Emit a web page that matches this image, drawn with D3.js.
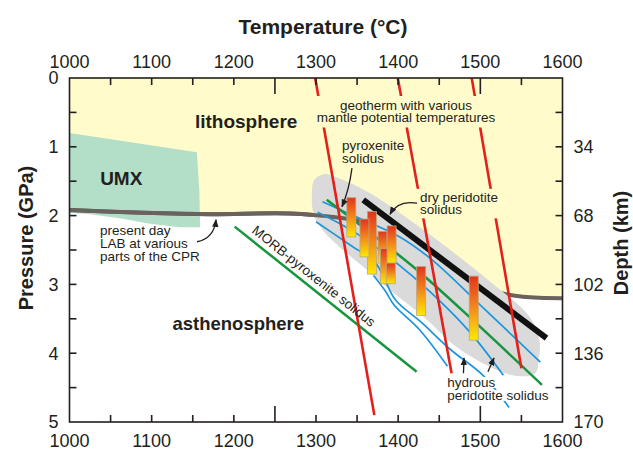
<!DOCTYPE html>
<html>
<head>
<meta charset="utf-8">
<script src="https://cdn.jsdelivr.net/npm/d3@7"></script>
<style>
  html, body { margin: 0; padding: 0; background: #fff; }
  svg { display: block; font-family: "Liberation Sans", Arial, Helvetica, sans-serif; }
</style>
</head>
<body>
<svg id="chart" width="633" height="453"></svg>
<script>
// ---- axis ticks ----
const tempLabels = [1000, 1100, 1200, 1300, 1400, 1500, 1600];
const tempTickMarks = [1050, 1100, 1150, 1200, 1250, 1300, 1350, 1400, 1450, 1500, 1550];
const tempLongTicks = [1250, 1500];
const pressureLabels = [0, 1, 2, 3, 4, 5];
const pressureTickMarks = [0.5, 1, 1.5, 2, 2.5, 3, 3.5, 4, 4.5];
const depthAtPressure = [1, 2, 3, 4, 5];
const depthLabels = ["34", "68", "102", "136", "170"];

// ---- lithosphere-asthenosphere boundary (present day LAB) ----
const labT = [1000, 1090, 1171, 1268, 1329, 1372, 1430, 1472, 1496, 1520, 1552, 1600];
const labP = [1.92, 1.96, 1.98, 1.97, 2.03, 2.11, 2.40, 2.75, 2.98, 3.11, 3.18, 3.20];

// ---- UMX field ----
const umxT = [1000, 1155, 1158, 1159, 1134, 1098, 1061, 1025, 1000];
const umxP = [0.80, 1.08, 1.63, 2.17, 2.17, 2.12, 2.04, 1.98, 1.96];

// ---- melting zone (grey field) ----
const meltT = [1309, 1317, 1362, 1431, 1512, 1560, 1572, 1571, 1567, 1544, 1512, 1471, 1431, 1390, 1362, 1329, 1308, 1297, 1295, 1298];
const meltP = [1.40, 1.41, 1.65, 2.21, 2.96, 3.47, 3.81, 4.10, 4.29, 4.33, 4.20, 3.91, 3.47, 3.08, 2.79, 2.46, 2.21, 1.97, 1.68, 1.48];

// ---- geotherms for various mantle potential temperatures ----
const geotherm1T = [1299, 1371];   const geotherm1P = [0, 4.90];
const geotherm2T = [1399.5, 1465]; const geotherm2P = [0, 4.29];
const geotherm3T = [1489.5, 1550]; const geotherm3P = [0, 4.22];

// ---- solidi ----
const drySolidusT = [1357.5, 1580.5]; const drySolidusP = [1.77, 3.78];
const morbSolidusT = [1201, 1422.5];  const morbSolidusP = [2.16, 4.27];
const pyxSolidusT = [1313, 1378, 1427, 1491, 1575]; const pyxSolidusP = [1.77, 2.36, 2.83, 3.52, 4.46];

// hydrous peridotite solidi
const hydrous1T = [1308, 1353, 1402, 1442, 1500, 1573]; const hydrous1P = [1.80, 2.04, 2.31, 2.65, 3.30, 4.13];
const hydrous2T = [1302, 1347, 1396, 1439, 1487, 1528]; const hydrous2P = [1.95, 2.24, 2.67, 3.11, 3.69, 4.32];
const hydrous3T = [1300, 1342, 1372, 1384, 1397, 1428, 1464, 1503, 1535]; const hydrous3P = [2.09, 2.43, 2.68, 2.94, 3.23, 3.55, 3.95, 4.32, 4.79];
const hydrous4T = [1370, 1384, 1395, 1426, 1460]; const hydrous4P = [2.87, 3.09, 3.30, 3.66, 4.19];

// ---- P-T estimates (bars) ----
const barT      = [1343, 1368, 1359, 1381, 1384, 1392, 1391, 1428, 1492];
const barPTop   = [1.74, 1.94, 2.05, 2.23, 2.48, 2.15, 2.69, 2.74, 2.88];
const barPBottom= [2.31, 2.85, 2.60, 2.69, 2.99, 2.69, 2.99, 3.45, 3.81];

// ---- drawing ----
const svg = d3.select("#chart");
const x = d3.scaleLinear().domain([1000, 1600]).range([69.5, 562.5]);
const y = d3.scaleLinear().domain([0, 5]).range([78, 422]);
const ink = "#231f20";
const lithoFill = "#fffbca";

const zip = (ts, ps) => ts.map((t, i) => [t, ps[i]]);
const line = d3.line().x(d => x(d[0])).y(d => y(d[1]));
const closed = d3.line().x(d => x(d[0])).y(d => y(d[1])).curve(d3.curveLinearClosed);
const smooth = d3.line().x(d => x(d[0])).y(d => y(d[1])).curve(d3.curveCatmullRom.alpha(0.5));

const defs = svg.append("defs");
defs.append("clipPath").attr("id", "plot-clip")
  .append("rect").attr("x", x(1000)).attr("y", y(0))
  .attr("width", x(1600) - x(1000)).attr("height", y(5) - y(0));

const grad = defs.append("linearGradient").attr("id", "bar-grad")
  .attr("x1", 0).attr("y1", 0).attr("x2", 0).attr("y2", 1);
grad.append("stop").attr("offset", "0%").attr("stop-color", "#e2331f");
grad.append("stop").attr("offset", "50%").attr("stop-color", "#f28a1d");
grad.append("stop").attr("offset", "100%").attr("stop-color", "#ffea00");

defs.append("marker").attr("id", "arrow")
  .attr("viewBox", "0 0 10 10").attr("refX", 9).attr("refY", 5)
  .attr("markerUnits", "userSpaceOnUse")
  .attr("markerWidth", 8).attr("markerHeight", 8).attr("orient", "auto")
  .append("path").attr("d", "M0,1 L10,5 L0,9 Z").attr("fill", ink);

const plot = svg.append("g").attr("clip-path", "url(#plot-clip)");

// lithosphere above the LAB
const lab = zip(labT, labP);
plot.append("path")
  .attr("d", d3.area().x(d => x(d[0])).y0(y(0)).y1(d => y(d[1])).curve(d3.curveCatmullRom.alpha(0.5))(lab))
  .attr("fill", lithoFill);

// UMX field
plot.append("path").attr("d", closed(zip(umxT, umxP))).attr("fill", "#b3dec8");

// LAB line
plot.append("path").attr("d", smooth(lab))
  .attr("fill", "none").attr("stroke", "#6b625e").attr("stroke-width", 4);

// melting zone
plot.append("path")
  .attr("d", d3.line().x(d => x(d[0])).y(d => y(d[1])).curve(d3.curveCatmullRomClosed.alpha(0.5))(zip(meltT, meltP)))
  .attr("fill", "#dadada");

// LAB visible across the upper end of the melting zone
plot.append("path").attr("d", smooth(lab.filter(d => d[0] <= 1372)))
  .attr("fill", "none").attr("stroke", "#6b625e").attr("stroke-width", 4);

// hydrous peridotite solidi
[[hydrous1T, hydrous1P], [hydrous2T, hydrous2P], [hydrous3T, hydrous3P], [hydrous4T, hydrous4P]].forEach(([ts, ps]) => {
  plot.append("path").attr("d", smooth(zip(ts, ps)))
    .attr("fill", "none").attr("stroke", "#1b95dc").attr("stroke-width", 1.7);
});

// pyroxenite and MORB-pyroxenite solidi
plot.append("path").attr("d", smooth(zip(pyxSolidusT, pyxSolidusP)))
  .attr("fill", "none").attr("stroke", "#17953f").attr("stroke-width", 2.5);
plot.append("path").attr("d", line(zip(morbSolidusT, morbSolidusP)))
  .attr("fill", "none").attr("stroke", "#17953f").attr("stroke-width", 2.5);

// dry peridotite solidus
plot.append("path").attr("d", line(zip(drySolidusT, drySolidusP)))
  .attr("fill", "none").attr("stroke", "#111").attr("stroke-width", 6);

// P-T bars
const barW = 9;
plot.selectAll("rect.bar").data(barT.map((t, i) => ({ t, top: barPTop[i], bot: barPBottom[i] })))
  .enter().append("rect").attr("class", "bar")
  .attr("x", d => x(d.t) - barW / 2).attr("y", d => y(d.top))
  .attr("width", barW).attr("height", d => y(d.bot) - y(d.top))
  .attr("fill", "url(#bar-grad)").attr("stroke", "#b9a77c").attr("stroke-width", 0.8);

// geotherms
[[geotherm1T, geotherm1P], [geotherm2T, geotherm2P], [geotherm3T, geotherm3P]].forEach(([ts, ps]) => {
  plot.append("path").attr("d", line(zip(ts, ps)))
    .attr("fill", "none").attr("stroke", "#e3201b").attr("stroke-width", 2.6);
});

// ---- annotations ----
const notes = svg.append("g").attr("fill", ink);

// one <text> per line; optional backing box in the given colour
function multiline(tx, ty, lines, opts) {
  const lh = opts.lh || 13;
  const items = lines.map((s, i) => notes.append("text")
    .attr("x", x(tx)).attr("y", y(ty) + i * lh)
    .attr("font-size", opts.size || 13.5)
    .attr("font-weight", opts.bold ? "bold" : "normal")
    .attr("text-anchor", opts.anchor || "start")
    .text(s));
  if (opts.knockout) {
    const [padX, padY, fill] = opts.knockout;
    if (opts.perLine) {
      items.forEach(t => {
        const b = t.node().getBBox();
        notes.insert("rect", () => items[0].node())
          .attr("x", b.x - padX).attr("y", b.y + 2 - padY)
          .attr("width", b.width + 2 * padX).attr("height", b.height - 4 + 2 * padY)
          .attr("fill", fill);
      });
    } else {
      const boxes = items.map(t => t.node().getBBox());
      const x0 = d3.min(boxes, b => b.x), x1 = d3.max(boxes, b => b.x + b.width);
      const y0 = d3.min(boxes, b => b.y), y1 = d3.max(boxes, b => b.y + b.height);
      notes.insert("rect", () => items[0].node())
        .attr("x", x0 - padX).attr("y", y0 - padY)
        .attr("width", x1 - x0 + 2 * padX).attr("height", y1 - y0 + 2 * padY)
        .attr("fill", fill);
    }
  }
}

multiline(1215, 0.73, ["lithosphere"], { size: 19, bold: true, anchor: "middle" });
multiline(1063, 1.56, ["UMX"], { size: 19, bold: true, anchor: "middle" });
multiline(1285.5, 3.66, ["asthenosphere"], { size: 18.5, bold: true, anchor: "end" });
multiline(1409.5, 0.465, ["geotherm with various", "mantle potential temperatures"], { anchor: "middle", lh: 12.5, knockout: [3, 2, lithoFill] });
multiline(1331.6, 1.05, ["pyroxenite", "solidus"], { lh: 12.5 });
multiline(1426.6, 1.80, ["dry peridotite", "solidus"], { lh: 12.5, knockout: [4, 1, lithoFill] });
multiline(1037, 2.28, ["present day", "LAB at various", "parts of the CPR"], {});
multiline(1459.8, 4.49, ["hydrous", "peridotite solidus"], { knockout: [1, 0, "#fff"], perLine: true });

// MORB-pyroxenite label along its solidus
notes.append("text")
  .attr("transform", `translate(${x(1221)},${y(2.24)}) rotate(38.5)`)
  .attr("font-size", 13.5).text("MORB-pyroxenite solidus");

// arrows
function arrow(pts) {
  const p = d3.path();
  p.moveTo(x(pts[0][0]), y(pts[0][1]));
  if (pts.length === 3) p.quadraticCurveTo(x(pts[1][0]), y(pts[1][1]), x(pts[2][0]), y(pts[2][1]));
  else p.lineTo(x(pts[1][0]), y(pts[1][1]));
  notes.append("path").attr("d", p.toString())
    .attr("fill", "none").attr("stroke", ink).attr("stroke-width", 1.3)
    .attr("marker-end", "url(#arrow)");
}
arrow([[1343.8, 1.31], [1340.2, 1.63], [1331.6, 1.87]]);
arrow([[1423, 1.82], [1399.8, 1.77], [1390.1, 1.98]]);
arrow([[1155.2, 2.38], [1176, 2.33], [1178.3, 2.06]]);
arrow([[1479.5, 4.29], [1480.1, 4.07]]);
arrow([[1509.3, 4.27], [1516.6, 4.07]]);

// ---- frame, ticks and axis labels ----
const axes = svg.append("g").attr("stroke", ink).attr("stroke-width", 1.6);
axes.append("rect").attr("x", x(1000)).attr("y", y(0))
  .attr("width", x(1600) - x(1000)).attr("height", y(5) - y(0)).attr("fill", "none");

tempTickMarks.forEach(t => {
  const len = tempLongTicks.includes(t) ? 16 : 7;
  axes.append("line").attr("x1", x(t)).attr("x2", x(t)).attr("y1", y(0)).attr("y2", y(0) + len);
  axes.append("line").attr("x1", x(t)).attr("x2", x(t)).attr("y1", y(5)).attr("y2", y(5) - len);
});
pressureTickMarks.forEach(p => {
  axes.append("line").attr("x1", x(1000)).attr("x2", x(1000) + 7).attr("y1", y(p)).attr("y2", y(p));
  axes.append("line").attr("x1", x(1600)).attr("x2", x(1600) - 7).attr("y1", y(p)).attr("y2", y(p));
});

const labels = svg.append("g").attr("fill", ink).attr("font-size", 18);
tempLabels.forEach(t => {
  labels.append("text").attr("x", x(t)).attr("y", 67.5).attr("text-anchor", "middle").text(t);
  labels.append("text").attr("x", x(t)).attr("y", 446.5).attr("text-anchor", "middle").text(t);
});
pressureLabels.forEach(p => {
  labels.append("text").attr("x", 58.5).attr("y", y(p)).attr("dy", "0.36em").attr("text-anchor", "end").text(p);
});
depthAtPressure.forEach((p, i) => {
  labels.append("text").attr("x", 573.5).attr("y", y(p)).attr("dy", "0.36em").attr("text-anchor", "start").text(depthLabels[i]);
});

svg.append("text").attr("x", 323).attr("y", 34).attr("text-anchor", "middle")
  .attr("font-size", 21).attr("font-weight", "bold").attr("fill", ink).text("Temperature (°C)");
svg.append("text").attr("transform", "translate(33,238) rotate(-90)").attr("text-anchor", "middle")
  .attr("font-size", 20).attr("font-weight", "bold").attr("fill", ink).text("Pressure (GPa)");
svg.append("text").attr("transform", "translate(628,243) rotate(-90)").attr("text-anchor", "middle")
  .attr("font-size", 20).attr("font-weight", "bold").attr("fill", ink).text("Depth (km)");
</script>
</body>
</html>
